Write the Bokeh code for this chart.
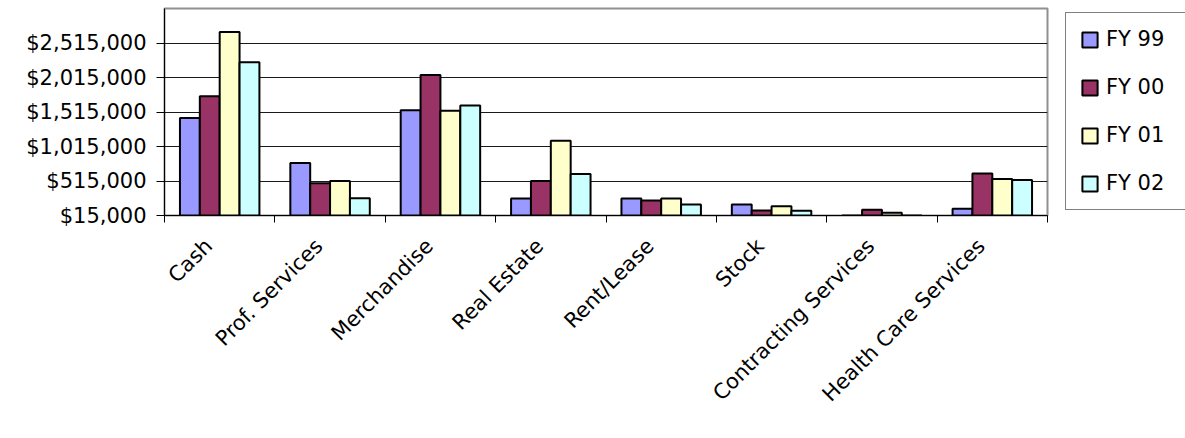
from math import pi
from bokeh.plotting import figure
from bokeh.models import (Range1d, LinearAxis, FixedTicker,
                          NumeralTickFormatter, Legend, LegendItem, ColumnDataSource)
from bokeh.embed import file_html
from bokeh.resources import INLINE

categories = ["Cash", "Prof. Services", "Merchandise", "Real Estate", "Rent/Lease",
              "Stock", "Contracting Services", "Health Care Services"]
series_names = ["FY 99", "FY 00", "FY 01", "FY 02"]
fy99 = [1427000, 776000, 1542000, 261000, 261000, 174000, 0, 112000]
fy00 = [1745000, 482000, 2053000, 515000, 232000, 87000, 97000, 622000]
fy01 = [2674000, 515000, 1532000, 1099000, 261000, 149000, 54000, 545000]
fy02 = [2236000, 265000, 1609000, 618000, 174000, 83000, 0, 531000]
y_ticks = [15000, 515000, 1015000, 1515000, 2015000, 2515000]
y_min, y_max = 15000, 3015000
colors = ["#9999FF", "#993366", "#FFFFCC", "#CCFFFF"]

FONT = "DejaVu Sans"
FS = "21px"
n = len(categories)
centers = [i + 0.5 for i in range(n)]
edges = list(range(n + 1))
series = [fy99, fy00, fy01, fy02]

p = figure(x_range=Range1d(0, n), y_range=Range1d(y_min, y_max),
           frame_width=883, frame_height=207,
           min_border_left=164, min_border_top=8, min_border_bottom=0, min_border_right=138,
           x_axis_location=None, output_backend="svg", toolbar_location=None)
p.background_fill_color = "white"
p.border_fill_color = "white"
p.outline_line_color = "#909090"
p.outline_line_width = 2

bw = 0.18
items = []
for j, (vals, name, c) in enumerate(zip(series, series_names, colors)):
    src = ColumnDataSource(dict(x=[cx + (j - 1.5) * bw for cx in centers], top=vals))
    r = p.vbar(x="x", top="top", bottom=y_min, width=bw, source=src,
               fill_color=c, line_color="black", line_width=2)
    items.append(LegendItem(label=name, renderers=[r]))

# y axis
ya = p.yaxis[0]
ya.ticker = FixedTicker(ticks=y_ticks)
ya.formatter = NumeralTickFormatter(format="$0,0")
ya.major_label_text_font = FONT
ya.major_label_text_font_size = FS
ya.major_label_text_color = "black"
ya.major_tick_out = 8
ya.major_tick_in = 0
ya.minor_tick_line_color = None
ya.axis_line_color = "black"
ya.major_tick_line_color = "black"
ya.major_label_standoff = 10

p.ygrid.grid_line_color = "#1a1a1a"
p.ygrid.grid_line_width = 1
p.xgrid.grid_line_color = None

# category axis: labels near the centers, tick marks at category boundaries
label_shift = 0.1
label_pos = [c - label_shift for c in centers]
cat_axis = LinearAxis(ticker=FixedTicker(ticks=label_pos, minor_ticks=edges),
                      major_label_overrides={c: lab for c, lab in zip(label_pos, categories)},
                      major_tick_line_color=None,
                      minor_tick_line_color="black", minor_tick_out=7, minor_tick_in=0,
                      axis_line_color="black",
                      major_label_orientation=pi / 4,
                      major_label_text_font=FONT, major_label_text_font_size=FS,
                      major_label_text_color="black", major_label_standoff=20)
p.add_layout(cat_axis, "below")

legend = Legend(items=items, location=(18, 5), orientation="vertical",
                glyph_width=19, glyph_height=19, label_standoff=7, label_width=68,
                label_text_font=FONT, label_text_font_size=FS, label_text_color="black",
                spacing=24, padding=14, margin=0,
                border_line_color="black", border_line_width=1, background_fill_alpha=1)
p.add_layout(legend, "right")

open("out.html", "w").write(file_html(p, INLINE))
